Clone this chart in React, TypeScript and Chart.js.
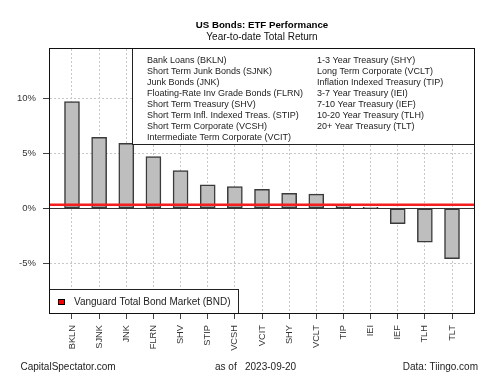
import React, { useEffect, useRef } from "react";
import { Chart, registerables } from "chart.js";

Chart.register(...registerables);

const tickers = ["BKLN", "SJNK", "JNK", "FLRN", "SHV", "STIP", "VCSH", "VCIT", "SHY", "VCLT", "TIP", "IEI", "IEF", "TLH", "TLT"];
const returns = [9.73, 6.48, 5.93, 4.71, 3.43, 2.13, 1.97, 1.73, 1.37, 1.30, 0.27, 0.09, -1.40, -3.10, -4.60];
const bndReturn = 0.33;
const yTicks = [-5, 0, 5, 10];
const legendLeft = [
  "Bank Loans (BKLN)",
  "Short Term Junk Bonds (SJNK)",
  "Junk Bonds (JNK)",
  "Floating-Rate Inv Grade Bonds (FLRN)",
  "Short Term Treasury (SHV)",
  "Short Term Infl. Indexed Treas. (STIP)",
  "Short Term Corporate (VCSH)",
  "Intermediate Term Corporate (VCIT)",
];
const legendRight = [
  "1-3 Year Treasury (SHY)",
  "Long Term Corporate (VCLT)",
  "Inflation Indexed Treasury (TIP)",
  "3-7 Year Treasury (IEI)",
  "7-10 Year Treasury (IEF)",
  "10-20 Year Treasury (TLH)",
  "20+ Year Treasury (TLT)",
];
const title = "US Bonds: ETF Performance";
const subtitle = "Year-to-date Total Return";
const bndLabel = "Vanguard Total Bond Market (BND)";
const footerLeft = "CapitalSpectator.com";
const footerMid1 = "as of";
const footerMid2 = "2023-09-20";
const footerRight = "Data: Tiingo.com";

const FONT = "'Liberation Sans', Arial, sans-serif";

const decorPlugin = {
  id: "decor",
  beforeDraw(chart: any) {
    const ctx = chart.ctx;
    ctx.save();
    ctx.fillStyle = "#fff";
    ctx.fillRect(0, 0, chart.width, chart.height);
    ctx.restore();
  },
  beforeDatasetsDraw(chart: any) {
    const ctx = chart.ctx;
    const { left, right } = chart.chartArea;
    const y0 = Math.round(chart.scales.y.getPixelForValue(0)) + 0.5;
    ctx.save();
    ctx.strokeStyle = "#333";
    ctx.lineWidth = 1;
    ctx.beginPath();
    ctx.moveTo(left - 7, y0);
    ctx.lineTo(right, y0);
    ctx.stroke();
    ctx.restore();
  },
  afterDatasetsDraw(chart: any) {
    const ctx = chart.ctx;
    const { left, right, top, bottom } = chart.chartArea;
    ctx.save();
    // BND line
    const yb = chart.scales.y.getPixelForValue(bndReturn);
    ctx.strokeStyle = "rgb(245,30,30)";
    ctx.lineWidth = 2.5;
    ctx.beginPath();
    ctx.moveTo(left, yb);
    ctx.lineTo(right, yb);
    ctx.stroke();

    // top-right legend box
    const bx = 132.5, by = top - 0.5, bw = right - 132, bh = 96;
    ctx.fillStyle = "#fff";
    ctx.fillRect(bx, by, bw, bh);
    ctx.strokeStyle = "#222";
    ctx.lineWidth = 1;
    ctx.strokeRect(bx, by, bw, bh);
    ctx.fillStyle = "#222";
    ctx.font = `9px ${FONT}`;
    ctx.textBaseline = "middle";
    ctx.textAlign = "left";
    const step = 10.9;
    legendLeft.forEach((t, i) => ctx.fillText(t, 147, 61 + i * step));
    legendRight.forEach((t, i) => ctx.fillText(t, 317, 61 + i * step));

    // bottom-left legend box
    const lx = left - 0.5, ly = 289.5, lw = 189, lh = bottom - 289;
    ctx.fillStyle = "#fff";
    ctx.fillRect(lx, ly, lw, lh);
    ctx.strokeStyle = "#222";
    ctx.strokeRect(lx, ly, lw, lh);
    ctx.fillStyle = "rgb(245,0,0)";
    ctx.fillRect(58, 299, 7, 6);
    ctx.strokeStyle = "#000";
    ctx.strokeRect(58.5, 299.5, 6, 5);
    ctx.fillStyle = "#222";
    ctx.font = `10px ${FONT}`;
    ctx.fillText(bndLabel, 74, 302);

    // plot border
    ctx.strokeStyle = "#111";
    ctx.lineWidth = 1;
    ctx.strokeRect(left - 0.5, top - 0.5, right - left + 1, bottom - top + 1);

    // titles
    const cx = (left + right) / 2;
    ctx.textAlign = "center";
    ctx.fillStyle = "#000";
    ctx.font = `bold 9.7px ${FONT}`;
    ctx.fillText(title, cx, 25.5);
    ctx.font = `10px ${FONT}`;
    ctx.fillStyle = "#111";
    ctx.fillText(subtitle, cx, 37);

    // footer
    ctx.font = `10px ${FONT}`;
    ctx.fillStyle = "#222";
    ctx.textAlign = "left";
    ctx.fillText(footerLeft, 20.5, 367);
    ctx.fillText(footerMid1, 215, 367);
    ctx.fillText(footerMid2, 245, 367);
    ctx.textAlign = "right";
    ctx.fillText(footerRight, 478, 367);
    ctx.restore();
  },
};

export default function App() {
  const ref = useRef<HTMLCanvasElement | null>(null);
  useEffect(() => {
    if (!ref.current) return;
    const chart = new Chart(ref.current, {
      type: "bar",
      data: {
        datasets: [
          {
            data: returns.map((v, i) => ({ x: i, y: v })),
            backgroundColor: "#bebebe",
            borderColor: "#3a3a3a",
            borderWidth: 1.5,
            borderSkipped: false,
            barThickness: 15,
          },
        ],
      },
      options: {
        animation: false,
        responsive: false,
        maintainAspectRatio: false,
        layout: { padding: { top: 49, right: 26, left: 0, bottom: 0 } },
        plugins: { legend: { display: false }, tooltip: { enabled: false }, title: { display: false } },
        scales: {
          x: {
            type: "linear",
            offset: false,
            min: -0.81,
            max: 14.81,
            afterBuildTicks: (axis: any) => {
              axis.ticks = tickers.map((_, i) => ({ value: i }));
            },
            afterFit: (axis: any) => {
              axis.height = 62;
            },
            grid: {
              offset: false,
              color: "#c8c8c8",
              lineWidth: 1,
              drawTicks: true,
              tickLength: 6,
              tickColor: "#444",
              tickBorderDash: [],
            },
            border: { display: false, dash: [2, 2] },
            ticks: {
              autoSkip: false,
              maxRotation: 90,
              minRotation: 90,
              padding: 6,
              color: "#333",
              font: { family: FONT, size: 9.3 },
              callback: (v: any) => tickers[v] ?? "",
            },
          },
          y: {
            min: -9.55,
            max: 14.53,
            afterBuildTicks: (axis: any) => {
              axis.ticks = yTicks.map((v) => ({ value: v }));
            },
            afterFit: (axis: any) => {
              axis.width = 50;
            },
            grid: {
              color: "#c8c8c8",
              lineWidth: 1,
              drawTicks: true,
              tickLength: 7,
              tickColor: "#444",
              tickBorderDash: [],
            },
            border: { display: false, dash: [2, 2] },
            ticks: {
              padding: 7,
              color: "#333",
              font: { family: FONT, size: 9.5 },
              callback: (v: any) => `${v}%`,
            },
          },
        },
      },
      plugins: [decorPlugin],
    } as any);
    return () => chart.destroy();
  }, []);
  return (
    <div style={{ position: "fixed", left: 0, top: 0, width: 500, height: 375 }}>
      <canvas ref={ref} width={500} height={375} style={{ width: 500, height: 375 }} />
    </div>
  );
}
